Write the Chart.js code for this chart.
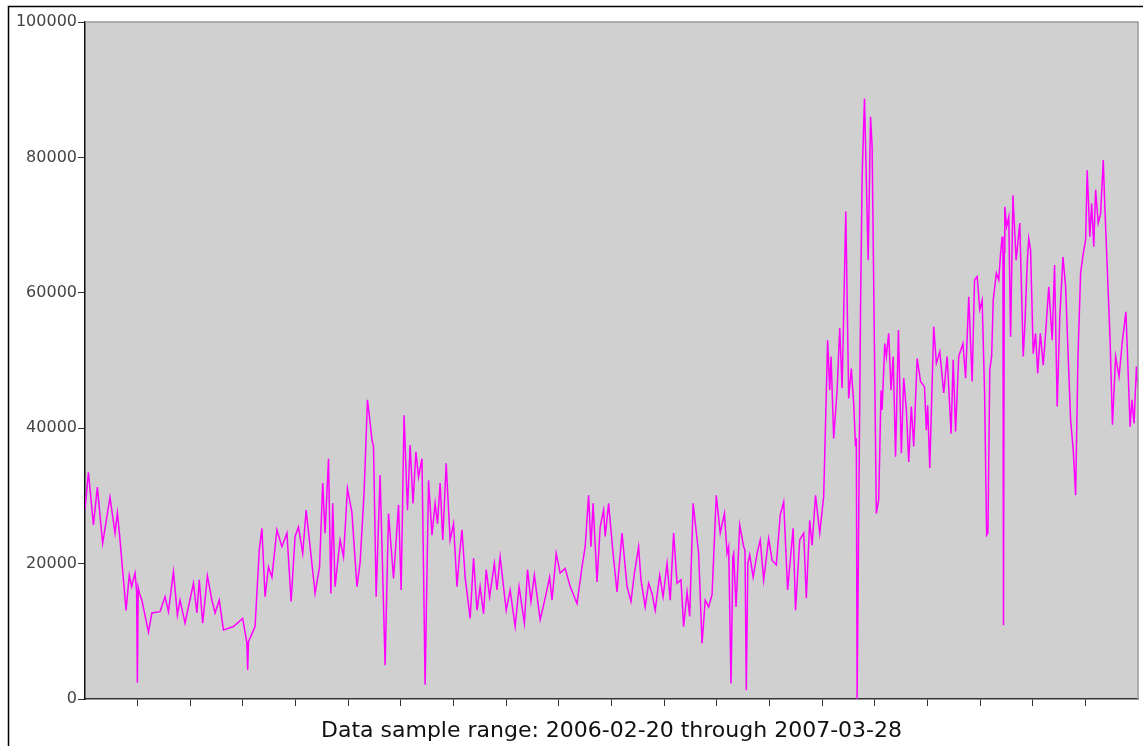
<!DOCTYPE html>
<html>
<head>
<meta charset="utf-8">
<script src="https://cdn.jsdelivr.net/npm/chart.js@4/dist/chart.umd.min.js"></script>
<style>
html,body{margin:0;padding:0;background:#fff;}
canvas{display:block;}
</style>
</head>
<body>
<canvas id="c" width="1143" height="746"></canvas>
<script>
// Day offsets from 2006-02-20 (0 .. 400 = 2007-03-28)
const days = [0.0,1.3,3.2,4.7,6.7,9.5,11.4,12.3,13.3,15.6,16.8,17.7,19.0,19.6,19.9,20.2,20.7,21.6,24.1,25.4,
28.5,30.4,31.7,33.6,35.1,36.1,38.0,41.2,42.5,43.4,44.7,46.5,48.2,49.4,51.0,52.6,56.4,59.9,61.5,61.8,
62.1,62.7,64.6,66.2,67.2,68.4,69.7,71.0,72.9,74.8,76.7,78.3,79.8,81.1,82.7,84.0,85.5,87.4,89.1,90.3,
91.2,92.5,93.4,94.1,95.0,96.9,98.2,99.7,101.4,103.3,104.5,106.0,107.3,108.3,109.0,109.6,110.6,112.1,114.0,115.3,
117.2,119.1,120.1,121.2,122.5,123.5,124.6,125.7,126.7,128.0,129.2,130.5,131.8,133.0,133.9,134.9,135.9,137.2,138.7,140.0,
141.3,142.3,143.2,144.4,146.3,147.6,148.9,150.1,151.4,152.4,153.7,155.5,156.5,157.7,160.0,161.5,163.4,164.9,166.9,168.1,
169.4,170.7,172.9,174.8,176.5,177.4,179.0,180.5,182.4,184.3,186.9,188.8,190.0,191.3,192.2,193.0,194.5,195.7,197.0,197.6,
198.9,200.6,202.1,204.0,205.9,207.4,208.7,210.3,211.2,212.8,214.1,215.4,216.6,218.3,219.6,221.1,222.3,223.6,224.9,226.4,
227.4,228.7,229.7,231.0,232.2,233.1,234.4,235.6,236.9,238.2,239.8,241.3,242.9,243.9,244.5,245.4,246.1,246.4,247.3,248.7,
250.2,250.7,251.2,251.8,252.5,253.8,255.3,256.5,257.8,259.7,261.0,262.6,264.1,265.4,266.9,269.0,269.9,271.5,273.0,274.0,
275.3,276.2,277.5,279.1,280.6,282.1,282.9,283.4,284.4,285.7,286.7,287.6,289.0,290.1,291.1,292.0,292.7,293.0,293.3,294.6,
295.2,296.1,296.8,297.5,298.4,299.0,300.6,301.5,302.4,302.8,303.8,304.4,305.3,306.2,307.0,307.9,309.0,310.1,311.0,312.0,
312.9,313.9,314.8,316.1,317.4,318.9,319.6,320.1,320.9,322.4,323.4,324.7,326.2,327.5,329.0,329.8,330.7,331.9,333.5,334.5,
335.7,337.0,337.9,338.9,339.9,340.8,341.7,342.5,343.0,343.7,344.4,345.0,346.2,347.1,347.8,348.4,348.7,348.9,349.2,349.4,
350.1,350.9,351.6,352.5,353.7,355.1,356.4,357.0,357.9,358.5,359.2,360.2,361.1,361.9,362.9,364.0,364.9,366.1,367.4,368.3,
369.3,370.3,371.5,372.5,373.4,374.4,375.4,376.3,377.2,378.2,379.2,380.1,380.7,381.7,382.4,383.2,383.9,384.9,385.8,386.8,
387.4,388.6,389.4,390.3,391.5,392.8,394.1,395.4,396.0,397.0,397.7,398.5,399.4,400.0];

const values = [28000,33500,25700,31300,23000,29800,24500,27500,23500,13100,18300,16600,18600,16000,2400,16500,15600,14600,9900,12700,
12900,15100,12900,18800,12400,14600,11200,17100,12700,17600,11200,18200,14600,12700,14600,10200,10700,11900,8300,4300,
8500,9000,10700,22000,25200,15100,19500,18000,25000,22500,24500,14400,24000,25400,21500,27900,22500,15600,19500,31900,
24500,35500,15600,28900,16600,23500,21000,31100,27500,16600,20100,30400,44200,40800,38300,37300,15100,33100,5000,27400,
17800,28700,16100,41900,27900,37500,28900,36500,32800,35500,2100,32300,24200,28900,25900,31900,23500,34800,23500,25900,
16600,21500,25000,18000,11900,20800,13100,16600,12600,19100,15100,20000,16100,21000,13100,16100,10700,16600,11200,19100,
14400,18300,11700,14900,18000,14600,21500,18600,19300,16600,14100,19500,22500,30100,22500,28900,17300,25400,27900,24000,
28900,21500,15800,24500,16600,14400,18600,22500,17600,13600,17100,15600,13100,18300,15100,20000,14600,24500,17100,17600,
10700,15800,12200,28900,24700,21500,8200,14600,13600,15400,30100,24500,27400,21500,22500,2300,21000,21500,13600,25700,
22500,22000,1300,20000,21300,18000,21500,23500,17600,23700,20500,19800,27200,29100,16100,25200,13100,23500,24500,14900,
26400,22700,30100,24500,29900,53000,45600,50600,38500,45600,54800,45900,72000,44400,48800,43700,37300,38500,0,57500,
77100,88700,76700,64800,86000,81600,27400,29400,45600,42700,52500,50600,54000,45600,50600,35800,54500,36300,47400,42700,
35000,43200,37300,50300,46900,46100,39700,43400,34100,55000,49600,51300,45200,50600,39200,50100,39500,50600,52500,47400,
59400,46900,61900,62400,57500,58900,45600,24200,24500,48600,50600,58900,62900,61900,65800,68300,66000,10900,66000,72700,
69800,71200,53500,74400,64800,70300,50600,55000,64300,68000,66300,51000,54000,48100,54000,49300,54000,60900,53000,64100,
43200,56500,65300,60900,51500,41200,36800,30100,50600,62900,65800,67800,78100,68300,73200,66800,75200,70300,71700,79600,
72700,60900,53000,40500,50600,47600,53000,57200,51000,40200,44200,40700,49100,46000];

const yTicks = [0, 20000, 40000, 60000, 80000, 100000];
const xTickDays = [20,40,60,80,100,120,140,160,180,200,220,240,260,280,300,320,340,360,380];
const titleText = 'Data sample range: 2006-02-20 through 2007-03-28';

const points = days.map((d, i) => ({x: d, y: values[i]}));

const framePlugin = {
  id: 'frame',
  beforeDraw(chart) {
    const {ctx, chartArea: a} = chart;
    ctx.save();
    ctx.fillStyle = '#ffffff';
    ctx.fillRect(0, 0, chart.width, chart.height);
    ctx.fillStyle = '#d0d0d0';
    ctx.fillRect(a.left, a.top, a.right - a.left, a.bottom - a.top);
    ctx.strokeStyle = '#000';
    ctx.lineWidth = 1.5;
    ctx.beginPath();
    ctx.moveTo(8.5, chart.height);
    ctx.lineTo(8.5, 6.5);
    ctx.lineTo(chart.width, 6.5);
    ctx.stroke();
    ctx.restore();
  },
  afterDatasetsDraw(chart) {
    const {ctx, chartArea: a} = chart;
    ctx.save();
    ctx.strokeStyle = '#9a9a9a';
    ctx.lineWidth = 1.5;
    ctx.beginPath();
    ctx.moveTo(a.left, a.top);
    ctx.lineTo(a.right, a.top);
    ctx.lineTo(a.right, a.bottom);
    ctx.stroke();
    ctx.restore();
  },
  afterDraw(chart) {
    const {ctx, chartArea: a} = chart;
    ctx.save();
    ctx.fillStyle = '#111';
    ctx.font = '22px "DejaVu Sans"';
    ctx.textAlign = 'center';
    ctx.textBaseline = 'alphabetic';
    ctx.fillText(titleText, (a.left + a.right) / 2, 737);
    ctx.restore();
  }
};

new Chart(document.getElementById('c'), {
  type: 'line',
  data: {
    datasets: [{
      data: points,
      borderColor: '#ff00ff',
      borderWidth: 1.5,
      pointRadius: 0,
      tension: 0,
      fill: false
    }]
  },
  options: {
    responsive: false,
    animation: false,
    devicePixelRatio: 1,
    layout: {padding: {top: 22, right: 5, left: 0, bottom: 0}},
    plugins: {legend: {display: false}, tooltip: {enabled: false}},
    scales: {
      x: {
        type: 'linear',
        min: 0,
        max: 400,
        afterBuildTicks(scale) { scale.ticks = xTickDays.map(v => ({value: v})); },
        afterFit(scale) { scale.height = 47; },
        ticks: {display: false},
        grid: {display: true, drawOnChartArea: false, drawTicks: true, tickLength: 7, color: '#333', lineWidth: 1},
        border: {display: true, color: '#333', width: 1.5}
      },
      y: {
        type: 'linear',
        min: 0,
        max: 100000,
        afterBuildTicks(scale) { scale.ticks = yTicks.map(v => ({value: v})); },
        afterFit(scale) { scale.width = 85; },
        ticks: {
          font: {family: 'DejaVu Sans', size: 16},
          color: '#444',
          padding: 1,
          callback: v => String(v)
        },
        grid: {display: true, drawOnChartArea: false, drawTicks: true, tickLength: 7, color: '#333', lineWidth: 1},
        border: {display: true, color: '#111', width: 1.5}
      }
    }
  },
  plugins: [framePlugin]
});
</script>
</body>
</html>
